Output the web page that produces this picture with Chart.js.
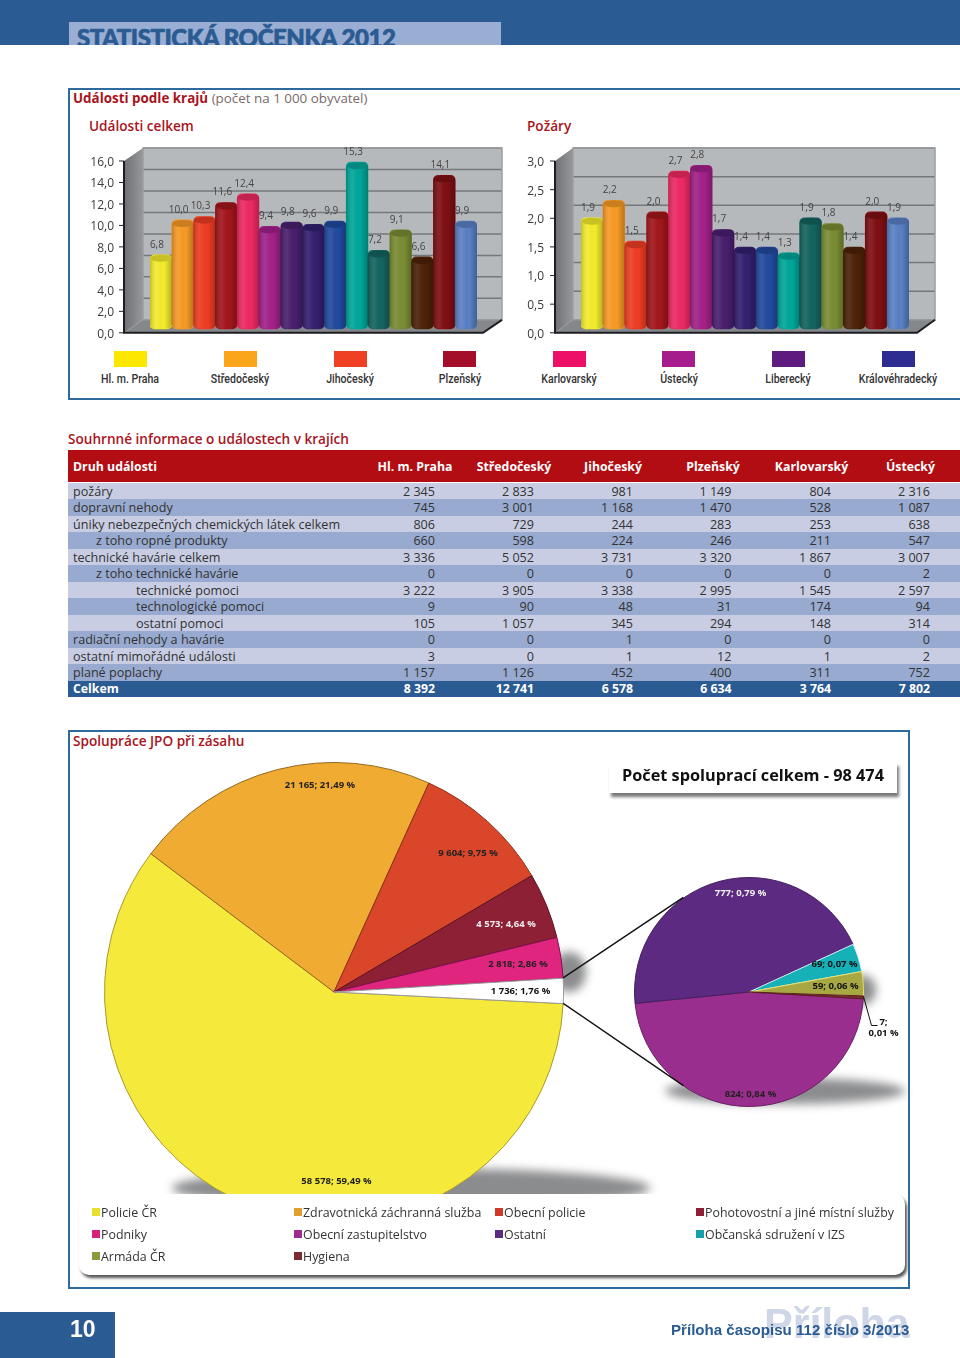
<!DOCTYPE html>
<html lang="cs">
<head>
<meta charset="UTF-8">
<title>Statistická ročenka 2012</title>
<script src="https://cdn.jsdelivr.net/npm/chart.js"></script>
<style>
  html, body { margin: 0; padding: 0; background: #fff; }
  body { position: relative; width: 960px; height: 1358px; overflow: hidden; font-family: "Open Sans", sans-serif; color: #333; }
  .abs { position: absolute; }
  .t { position: absolute; white-space: nowrap; line-height: 1; }
  canvas { position: absolute; }
  .head { color: #a8141c; font-weight: 600; font-size: 13.6px; }
  .box { position: absolute; border: 2px solid #2f6a9e; box-sizing: border-box; }
  .row { position: absolute; left: 68px; width: 892px; }
  .legendName { font-family: Roboto, sans-serif; font-weight: 500; font-size: 12px; transform: translateX(-50%) scaleX(.88); color: #333; }
  .shadow { position: absolute; background: #77787a; border-radius: 50%; filter: blur(5px); opacity: .85; }
</style>
</head>
<body>
  <div class="abs" style="left:0;top:0;width:960px;height:45px;background:#2a5b92"></div>
  <div class="abs" style="left:69px;top:22px;width:432px;height:23px;background:#9aaed3;overflow:hidden">
    <div class="t" style="left:8px;top:1px;font:900 24px Lato,sans-serif;letter-spacing:-.45px;-webkit-text-stroke:.7px #2a5b92;color:#2a5b92">STATISTICKÁ ROČENKA 2012</div>
  </div>

  <div class="box" style="left:68px;top:88px;width:894px;height:312px"></div>
  <div class="t" style="left:73px;top:92px;font-size:13.4px;color:#7a6a6a"><span style="color:#a8141c;font-weight:700">Události podle krajů</span> (počet na 1 000 obyvatel)</div>
  <div class="t head" style="left:89px;top:119px">Události celkem</div>
  <div class="t head" style="left:527px;top:119px">Požáry</div>
  <canvas id="totalChart" width="440" height="200" style="left:70px;top:140px"></canvas>
  <canvas id="fireChart" width="450" height="200" style="left:500px;top:140px"></canvas>
  <div id="regionLegend"></div>

  <div class="t head" style="left:68px;top:432px">Souhrnné informace o událostech v krajích</div>
  <div id="summaryTable"></div>

  <div class="box" style="left:68px;top:730px;width:842px;height:559px"></div>
  <div class="t head" style="left:73px;top:734px">Spolupráce JPO při zásahu</div>
  <div class="shadow" style="left:172px;top:1168px;width:478px;height:40px"></div>
  <div class="shadow" style="left:552px;top:952px;width:34px;height:40px"></div>
  <div class="shadow" style="left:665px;top:1078px;width:240px;height:26px"></div>
  <div class="shadow" style="left:850px;top:975px;width:26px;height:30px"></div>
  <canvas id="mainPie" width="460" height="460" style="left:104px;top:761.7px"></canvas>
  <canvas id="detailPie" width="300" height="260" style="left:598.5px;top:861.5px"></canvas>
  <svg id="connectors" class="abs" width="960" height="1358" style="left:0;top:0"></svg>

  <div class="abs" style="left:609px;top:762px;width:288px;height:31px;background:#fff;box-shadow:2px 4px 3px #777"></div>
  <div class="t" style="left:622px;top:767px;font-size:16.3px;font-weight:700;color:#111">Počet spoluprací celkem - 98 474</div>

  <div class="abs" style="left:79px;top:1194px;width:826px;height:81px;background:#fff;border-radius:10px;box-shadow:2px 3px 3px #555"></div>
  <div id="pieLegend"></div>

  <div class="abs" style="left:0;top:1312px;width:115px;height:46px;background:#2a5b92"></div>
  <div class="t" style="left:70px;top:1316px;font:700 23px 'Liberation Sans',sans-serif;color:#fff">10</div>
  <div class="t" style="left:764px;top:1299px;font:700 43px 'Liberation Sans',sans-serif;color:#cfd6e8">Příloha</div>
  <div class="t" style="left:671px;top:1321px;font:700 15.1px 'Liberation Sans',sans-serif;color:#2a5b92">Příloha časopisu 112 číslo 3/2013</div>

<script>
// bar charts
const regions = ['Hl. m. Praha', 'Středočeský', 'Jihočeský', 'Plzeňský', 'Karlovarský', 'Ústecký', 'Liberecký', 'Královéhradecký',
  'Pardubický', 'Vysočina', 'Jihomoravský', 'Olomoucký', 'Moravskoslezský', 'Zlínský', 'ČR'];
const totalValues = [6.8, 10.0, 10.3, 11.6, 12.4, 9.4, 9.8, 9.6, 9.9, 15.3, 7.2, 9.1, 6.6, 14.1, 9.9];
const fireValues = [1.9, 2.2, 1.5, 2.0, 2.7, 2.8, 1.7, 1.4, 1.4, 1.3, 1.9, 1.8, 1.4, 2.0, 1.9];
const barColors = ['#f4ec2c', '#f79a25', '#ee3d23', '#a3161b', '#ee2a62', '#a32189', '#4a1f6e', '#33206f',
  '#224a9e', '#00a79a', '#146460', '#7a8d33', '#4d2207', '#7f0f13', '#5a80c4'];
const legendRegions = regions.slice(0, 8);
const legendColors = ['#fde600', '#fba61a', '#ef4023', '#a50e28', '#ec1068', '#a61c8c', '#5e1a7e', '#2d2c90'];

// table
const tableHeader = ['Druh události', 'Hl. m. Praha', 'Středočeský', 'Jihočeský', 'Plzeňský', 'Karlovarský', 'Ústecký'];
const rowLabels = ['požáry', 'dopravní nehody', 'úniky nebezpečných chemických látek celkem', 'z toho ropné produkty',
  'technické havárie celkem', 'z toho technické havárie', 'technické pomoci', 'technologické pomoci', 'ostatní pomoci',
  'radiační nehody a havárie', 'ostatní mimořádné události', 'plané poplachy', 'Celkem'];
const praha = [2345, 745, 806, 660, 3336, 0, 3222, 9, 105, 0, 3, 1157, 8392];
const stredocesky = [2833, 3001, 729, 598, 5052, 0, 3905, 90, 1057, 0, 0, 1126, 12741];
const jihocesky = [981, 1168, 244, 224, 3731, 0, 3338, 48, 345, 1, 1, 452, 6578];
const plzensky = [1149, 1470, 283, 246, 3320, 0, 2995, 31, 294, 0, 12, 400, 6634];
const karlovarsky = [804, 528, 253, 211, 1867, 0, 1545, 174, 148, 0, 1, 311, 3764];
const ustecky = [2316, 1087, 638, 547, 3007, 2, 2597, 94, 314, 0, 2, 752, 7802];

// pies
const mainLabels = ['Policie ČR', 'Zdravotnická záchranná služba', 'Obecní policie', 'Pohotovostní a jiné místní služby', 'Podniky', 'Ostatní složky'];
const mainValues = [58578, 21165, 9604, 4573, 2818, 1736];
const mainPercents = ['59,49', '21,49', '9,75', '4,64', '2,86', '1,76'];
const mainColors = ['#f5ea3c', '#f0ab32', '#d9462a', '#8e2035', '#e0257f', '#ffffff'];
const mainEdges = ['#a89a30', '#94681f', '#8a3018', '#5a1020', '#801050', '#9a9a9a'];
const detailLabels = ['Obecní zastupitelstvo', 'Ostatní', 'Občanská sdružení v IZS', 'Armáda ČR', 'Hygiena'];
const detailValues = [824, 777, 69, 59, 7];
const detailPercents = ['0,84', '0,79', '0,07', '0,06', '0,01'];
const detailColors = ['#9a2e8e', '#5c2a80', '#15b0b8', '#a8a842', '#7b2b2b'];
const detailEdges = ['#6a1f62', '#43205e', '#d8eef0', '#e0e070', '#5a1f1f'];
const pieLegendNames = [
  ['Policie ČR', 'Zdravotnická záchranná služba', 'Obecní policie', 'Pohotovostní a jiné místní služby'],
  ['Podniky', 'Obecní zastupitelstvo', 'Ostatní', 'Občanská sdružení v IZS'],
  ['Armáda ČR', 'Hygiena']
];
const pieLegendColors = [
  ['#e8e02e', '#e0a030', '#d03a28', '#8e2035'],
  ['#d8207a', '#9a2e8e', '#5c2a80', '#15a0b0'],
  ['#8a9a3c', '#7b2b2b']
];

function comma(v) { return v.toFixed(1).replace('.', ','); }
function spaced(v) { return String(v).replace(/\B(?=(\d{3})+$)/g, ' '); }

function addText(parent, text, left, top, css) {
  const d = document.createElement('div');
  d.className = 't';
  d.textContent = text;
  d.style.cssText = 'left:' + left + 'px;top:' + top + 'px;' + (css || '');
  parent.appendChild(d);
  return d;
}

// 3d look: walls behind the bars, cylinder shading and labels on them
const wall3d = {
  id: 'wall3d',
  beforeDatasetsDraw(chart, args, o) {
    const c = chart.ctx, a = chart.chartArea, y = chart.scales.y;
    const fl = a.left - o.frontLeft, fr = a.right + o.frontRight;
    const bl = fl + o.dx, br = fr + o.dx;
    const top = a.top, bot = a.bottom;
    c.save();
    // back wall
    c.fillStyle = '#b6b9bc';
    c.fillRect(bl, top - o.dy, br - bl, bot - top);
    // left wall
    const g = c.createLinearGradient(fl, 0, bl, 0);
    g.addColorStop(0, '#6f7174');
    g.addColorStop(1, '#96989b');
    c.fillStyle = g;
    c.beginPath();
    c.moveTo(fl, top); c.lineTo(bl, top - o.dy); c.lineTo(bl, bot - o.dy); c.lineTo(fl, bot);
    c.fill();
    // floor
    c.fillStyle = '#85888b';
    c.beginPath();
    c.moveTo(fl, bot); c.lineTo(bl, bot - o.dy); c.lineTo(br, bot - o.dy); c.lineTo(fr, bot);
    c.fill();
    // grid on back wall, tick marks on the axis
    y.ticks.forEach((t, i) => {
      const py = y.getPixelForTick(i);
      c.strokeStyle = '#75787b';
      c.lineWidth = 1.5;
      c.beginPath(); c.moveTo(bl, py - o.dy); c.lineTo(br, py - o.dy); c.stroke();
      c.strokeStyle = '#222';
      c.lineWidth = 1;
      c.beginPath(); c.moveTo(fl - 5, py); c.lineTo(fl, py); c.stroke();
    });
    // top + right edge of the wall
    c.strokeStyle = '#9b9ea1';
    c.lineWidth = 1.5;
    c.strokeRect(bl, top - o.dy, br - bl, bot - top);
    c.strokeStyle = '#1d1d22';
    c.lineWidth = 2;
    c.beginPath();
    c.moveTo(fl, top); c.lineTo(fl, bot); c.lineTo(fr, bot); c.lineTo(br, bot - o.dy);
    c.stroke();
    c.restore();
  },
  afterDatasetsDraw(chart) {
    const c = chart.ctx;
    const meta = chart.getDatasetMeta(0);
    const vals = chart.data.datasets[0].data;
    c.save();
    meta.data.forEach((el, i) => {
      const w = el.width, x = el.x - w / 2;
      const g = c.createLinearGradient(x, 0, x + w, 0);
      g.addColorStop(0, 'rgba(0,0,0,.2)');
      g.addColorStop(0.3, 'rgba(255,255,255,.08)');
      g.addColorStop(0.65, 'rgba(0,0,0,0)');
      g.addColorStop(1, 'rgba(0,0,0,.25)');
      c.fillStyle = g;
      c.beginPath();
      c.roundRect(x, el.y, w, el.base - el.y, 5);
      c.fill();
      // top of the cylinder
      c.fillStyle = barColors[i];
      c.beginPath();
      c.ellipse(el.x, el.y + 3.5, w / 2 - 0.5, 3.5, 0, 0, Math.PI * 2);
      c.fill();
      c.fillStyle = 'rgba(0,0,0,.18)';
      c.fill();
      c.fillStyle = '#444';
      c.font = '10px "Open Sans", sans-serif';
      c.textAlign = 'center';
      c.textBaseline = 'middle';
      c.fillText(comma(vals[i]), el.x - 4, el.y - 10);
    });
    c.restore();
  }
};

function barChart(id, values, yMax, yStep, barMin, barMax, padRight, walls) {
  return new Chart(document.getElementById(id), {
    type: 'bar',
    data: {
      labels: regions,
      datasets: [{ data: values, backgroundColor: barColors, yAxisID: 'bars',
        barPercentage: 1, categoryPercentage: 1, borderRadius: 5, borderSkipped: false }]
    },
    options: {
      responsive: false,
      animation: false,
      layout: { padding: { top: 21, bottom: 7, right: padRight, left: 0 } },
      plugins: { legend: { display: false }, tooltip: { enabled: false }, wall3d: walls },
      scales: {
        x: { display: false },
        y: {
          min: 0, max: yMax,
          ticks: { stepSize: yStep, padding: 0, labelOffset: 1.5, autoSkip: false, color: '#3a3a3a', font: { size: 12, family: '"Open Sans", sans-serif' }, callback: comma },
          grid: { display: true, drawOnChartArea: false, drawTicks: true, tickLength: walls.labelPad, color: 'transparent' },
          border: { display: false },
          afterFit(s) { s.width = walls.axisWidth; }
        },
        bars: { display: false, min: barMin, max: barMax }
      }
    },
    plugins: [wall3d]
  });
}

barChart('totalChart', totalValues, 16, 2, -0.367, 15.41, 33,
  { frontLeft: 26, frontRight: 6, dx: 19, dy: 13, axisWidth: 80, labelPad: 36 });
barChart('fireChart', fireValues, 3, 0.5, -0.0684, 2.872, 41,
  { frontLeft: 26, frontRight: 8, dx: 18, dy: 13, axisWidth: 81, labelPad: 37 });

// region legend under the bars
const regionLegend = document.getElementById('regionLegend');
const legendX = [130, 240, 350, 459.5, 569, 678.5, 788, 898];
legendRegions.forEach((name, i) => {
  const sw = document.createElement('div');
  sw.className = 'abs';
  sw.style.cssText = 'left:' + (legendX[i] - 16.5) + 'px;top:351px;width:33px;height:16px;background:' + legendColors[i];
  regionLegend.appendChild(sw);
  addText(regionLegend, name, legendX[i], 373, '').classList.add('legendName');
});

// summary table
const tbl = document.getElementById('summaryTable');
const headerCenter = [0, 415, 514, 613, 713, 811.5, 910.5];
const colRight = [435, 534, 633, 731.5, 831, 930];
const columns = [praha, stredocesky, jihocesky, plzensky, karlovarsky, ustecky];
const indents = { 3: 96, 5: 96, 6: 136, 7: 136, 8: 136 };
const head = document.createElement('div');
head.className = 'row';
head.style.cssText = 'top:450px;height:32px;background:#b30d14';
tbl.appendChild(head);
tableHeader.forEach((h, i) => {
  const d = addText(tbl, h, i ? headerCenter[i] : 73, 461, 'color:#fff;font-size:12.3px;font-weight:700;');
  if (i) d.style.transform = 'translateX(-50%)';
});
rowLabels.forEach((label, r) => {
  const top = 483 + r * 16.47;
  const last = r === rowLabels.length - 1;
  const bg = last ? '#2a5b92' : (r % 2 ? '#98aacf' : '#c8cde3');
  const row = document.createElement('div');
  row.className = 'row';
  row.style.cssText = 'top:' + top + 'px;height:16.6px;background:' + bg;
  tbl.appendChild(row);
  const css = last ? 'color:#fff;font-size:12.3px;font-weight:700;' : 'color:#333;font-size:12.6px;';
  addText(tbl, label, indents[r] || 73, top + (last ? 2 : 3), css);
  columns.forEach((col, c) => {
    const d = addText(tbl, spaced(col[r]), colRight[c], top + (last ? 2 : 3), css);
    d.style.transform = 'translateX(-100%)';
  });
});

// pies
const pieText = {
  id: 'pieText',
  afterDatasetsDraw(chart, args, o) {
    const c = chart.ctx, arc = chart.getDatasetMeta(0).data[0];
    c.save();
    c.font = '700 9.5px "Open Sans", sans-serif';
    c.textAlign = 'center';
    c.textBaseline = 'middle';
    chart.data.datasets[0].data.forEach((v, i) => {
      c.fillStyle = o.colors[i];
      const lines = (spaced(v) + '; ' + o.percents[i] + ' %').split(o.breakAt === i ? '; ' : '\n');
      lines.forEach((txt, k) => {
        const s = lines.length > 1 && k === 0 ? txt + ';' : txt;
        c.fillText(s, arc.x + o.pos[i][0], arc.y + o.pos[i][1] + k * 11);
      });
    });
    if (o.leader) {
      c.strokeStyle = '#111';
      c.lineWidth = 1;
      c.beginPath();
      o.leader.forEach((p, k) => k ? c.lineTo(arc.x + p[0], arc.y + p[1]) : c.moveTo(arc.x + p[0], arc.y + p[1]));
      c.stroke();
    }
    c.restore();
  }
};

function pie(id, labels, values, colors, edges, rotation, padding, text) {
  return new Chart(document.getElementById(id), {
    type: 'pie',
    data: { labels: labels, datasets: [{ data: values, backgroundColor: colors, borderColor: edges, borderWidth: 1 }] },
    options: {
      responsive: false,
      animation: false,
      rotation: rotation,
      layout: { padding: padding },
      plugins: { legend: { display: false }, tooltip: { enabled: false }, pieText: text }
    },
    plugins: [pieText]
  });
}

const mainChart = pie('mainPie', mainLabels, mainValues, mainColors, mainEdges, 92.9, 0, {
  percents: mainPercents,
  colors: ['#222', '#222', '#222', '#eee', '#222', '#111'],
  pos: [[2.5, 189.5], [-14, -206.5], [134, -138.5], [172, -67.5], [184, -27.5], [186.5, -0.5]]
});
const detailChart = pie('detailPie', detailLabels, detailValues, detailColors, detailEdges, 93.4, { left: 35, right: 35, top: 15, bottom: 15 }, {
  percents: detailPercents,
  colors: ['#222', '#f2f2f2', '#111', '#111', '#111'],
  pos: [[1.5, 102.5], [-8.5, -98.5], [85.5, -27.5], [86.5, -5.5], [134.5, 30.5]],
  breakAt: 4,
  leader: [[114.5, 4.5], [122.5, 33.5], [128.5, 33.5]]
});

// lines from the small white slice to the detail pie
function pagePoint(chart, arc, angle) {
  const r = chart.canvas.getBoundingClientRect();
  return [r.left + arc.x + Math.cos(angle) * arc.outerRadius, r.top + arc.y + Math.sin(angle) * arc.outerRadius];
}
const otherArc = mainChart.getDatasetMeta(0).data[5];
const detailArc = detailChart.getDatasetMeta(0).data[0];
const spread = 124.7 * Math.PI / 180;
const svg = document.getElementById('connectors');
[[otherArc.startAngle, -spread], [otherArc.endAngle, spread]].forEach(pair => {
  const a = pagePoint(mainChart, otherArc, pair[0]);
  const b = pagePoint(detailChart, detailArc, pair[1]);
  const l = document.createElementNS('http://www.w3.org/2000/svg', 'line');
  l.setAttribute('x1', a[0]); l.setAttribute('y1', a[1]);
  l.setAttribute('x2', b[0]); l.setAttribute('y2', b[1]);
  l.setAttribute('stroke', '#111');
  l.setAttribute('stroke-width', '1.4');
  svg.appendChild(l);
});

// pie legend
const pieLegend = document.getElementById('pieLegend');
const legendCols = [92, 294, 495, 696];
pieLegendNames.forEach((row, r) => {
  row.forEach((name, c) => {
    const sw = document.createElement('div');
    sw.className = 'abs';
    const top = 1208 + r * 22;
    sw.style.cssText = 'left:' + legendCols[c] + 'px;top:' + top + 'px;width:8px;height:8px;background:' + pieLegendColors[r][c];
    pieLegend.appendChild(sw);
    addText(pieLegend, name, legendCols[c] + 9, top - 1, 'font-size:12.4px;color:#333;');
  });
});
</script>
</body>
</html>
